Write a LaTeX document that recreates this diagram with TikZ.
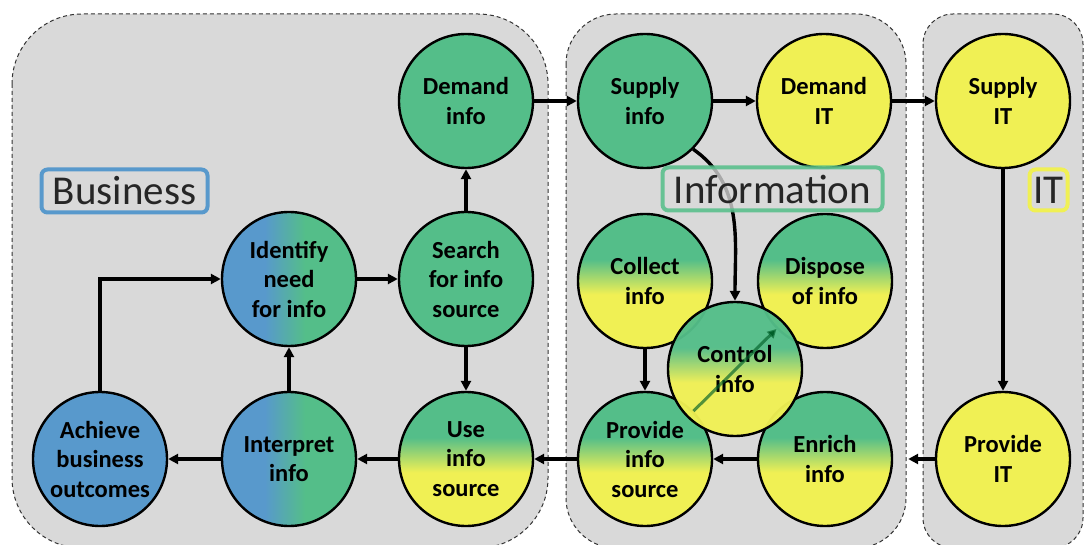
\documentclass[tikz,border=0pt]{standalone}
\usepackage{fontspec}
\setmainfont{Carlito}
\usetikzlibrary{arrows.meta}
\definecolor{blueC}{RGB}{88,153,204}
\definecolor{greenC}{RGB}{84,190,137}
\definecolor{yellowC}{RGB}{240,240,84}
\definecolor{panelC}{RGB}{217,217,217}
\definecolor{dashC}{RGB}{50,50,50}
\definecolor{arrowG}{RGB}{0,95,40}
\pgfdeclarehorizontalshading{bgshade}{100bp}{color(0bp)=(blueC); color(41bp)=(blueC); color(56bp)=(greenC); color(100bp)=(greenC)}
\pgfdeclareverticalshading{gyshade}{100bp}{color(0bp)=(yellowC); color(45bp)=(yellowC); color(58bp)=(greenC); color(100bp)=(greenC)}
\begin{document}
\begin{tikzpicture}[x=1pt,y=-1pt,
  proc/.style={circle, draw=black, line width=2.4pt, minimum size=134pt, inner sep=0pt,
    align=center, text=black, font=\bfseries\fontsize{24.5}{29.5}\selectfont},
  pblue/.style={proc, fill=blueC},
  pgreen/.style={proc, fill=greenC},
  pyellow/.style={proc, fill=yellowC},
  pbg/.style={proc, shading=bgshade},
  pgy/.style={proc, shading=gyshade},
  panel/.style={draw=dashC, dash pattern=on 4pt off 3pt, line width=1pt, fill=panelC},
  arr/.style={line width=3.4pt, -{Triangle[length=10pt,width=10pt]}},
  lab/.style={rounded corners=6pt, line width=4pt, fill=panelC, inner sep=0pt,
    text=black!85, font=\fontsize{41}{41}\selectfont}
]
\useasboundingbox (0,0) rectangle (1090,545);
% panels
\draw[panel, rounded corners=70pt] (12,14) rectangle (548,548);
\draw[panel, rounded corners=50pt] (566,14) rectangle (906,548);
\draw[panel, rounded corners=30pt] (923,14) rectangle (1083,548);
% nodes
\node[pblue] (ach) at (100,459) {Achieve\\business\\outcomes};
\node[pbg] (interp) at (289,459) {Interpret\\info};
\node[pgy] (use) at (466,459) {Use\\info\\source};
\node[pgy] (pis) at (645,459) {Provide\\info\\source};
\node[pgy] (enrich) at (825,459) {Enrich\\info};
\node[pyellow] (pit) at (1003,459) {Provide\\IT};
\node[pbg] (ident) at (289,279) {Identify\\need\\for info};
\node[pgreen] (search) at (466,279) {Search\\for info\\source};
\node[pgy] (collect) at (645,281) {Collect\\info};
\node[pgy] (dispose) at (825,281) {Dispose\\of info};
\node[pgreen] (dinfo) at (466,101) {Demand\\info};
\node[pgreen] (sinfo) at (645,101) {Supply\\info};
\node[pyellow] (dit) at (824,101) {Demand\\IT};
\node[pyellow] (sit) at (1003,101) {Supply\\IT};
\node[pgy, fill opacity=0.96, text opacity=1, draw opacity=1] (ctrl) at (735,369) {Control\\info};
% diagonal arrow seen through control
\draw[line width=3pt, draw=arrowG, draw opacity=0.65, -{Triangle[length=9pt,width=9pt]}] (pis) -- (dispose);
% arrows
\draw[arr] (dinfo) -- (sinfo);
\draw[arr] (sinfo) -- (dit);
\draw[arr] (dit) -- (sit);
\draw[arr] (sit) -- (pit);
\draw[arr, shorten >=15pt] (pit) -- (enrich);
\draw[arr] (enrich) -- (pis);
\draw[arr] (pis) -- (use);
\draw[arr] (use) -- (interp);
\draw[arr] (interp) -- (ach);
\draw[arr] (ach.north) |- (ident.west);
\draw[arr] (interp) -- (ident);
\draw[arr] (ident) -- (search);
\draw[arr] (search) -- (dinfo);
\draw[arr] (search) -- (use);
\draw[arr] (collect) -- (pis);
\draw[arr] (sinfo.-45) to[out=-35,in=90] (ctrl.north);
% labels
\node[lab, draw=blueC, minimum width=166pt, minimum height=43pt] (lbus) at (124.5,191) {Business};
\node[lab, draw=greenC, draw opacity=0.85, fill opacity=0.78, text opacity=1, minimum width=220pt, minimum height=43pt] (linfo) at (772.5,189) {Information};
\node[lab, draw=yellowC, minimum width=38pt, minimum height=41pt] (lit) at (1048.5,190) {IT};
\end{tikzpicture}
\end{document}
